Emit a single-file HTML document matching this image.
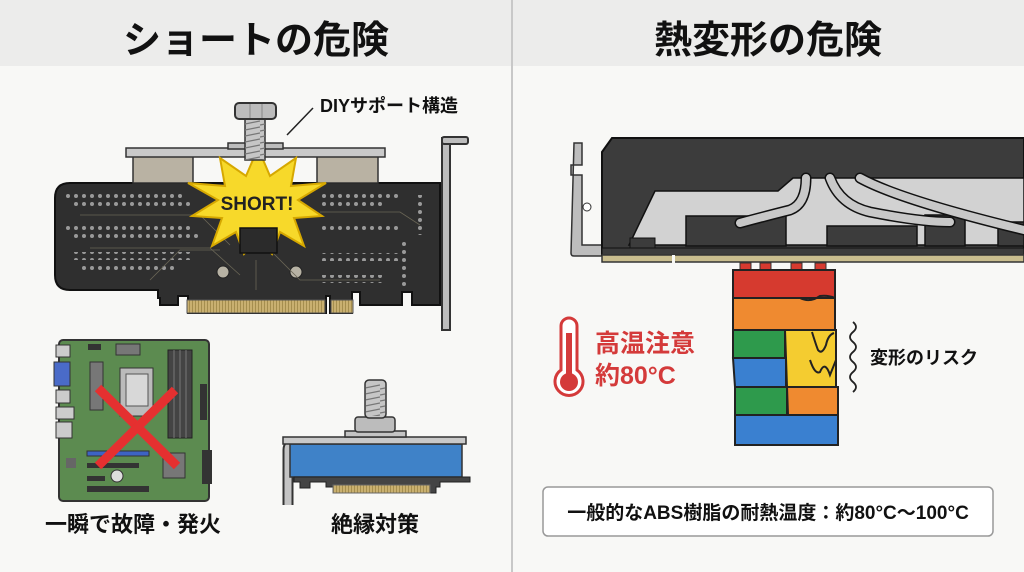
<!DOCTYPE html>
<html><head><meta charset="utf-8">
<style>
html,body{margin:0;padding:0;background:#f8f8f6;}
svg{display:block}
text{font-family:"Liberation Sans","Noto Sans CJK JP",sans-serif;font-weight:bold}
</style></head><body>
<svg width="1024" height="572" viewBox="0 0 1024 572" xmlns="http://www.w3.org/2000/svg">
<defs>
<pattern id="dots" x="0" y="0" width="8" height="8" patternUnits="userSpaceOnUse">
<circle cx="4" cy="4" r="2" fill="#9a9a9a"/></pattern>
<pattern id="gold" x="0" y="0" width="3" height="10" patternUnits="userSpaceOnUse">
<rect width="3" height="10" fill="#c9b070"/><rect width="1" height="10" fill="#a58e4e"/></pattern>
<pattern id="thread" x="0" y="0" width="20" height="6" patternUnits="userSpaceOnUse">
<line x1="0" y1="5" x2="20" y2="1" stroke="#777" stroke-width="1.2"/></pattern>
</defs>
<rect width="1024" height="572" fill="#f8f8f6"/>
<rect width="1024" height="66" fill="#ececeb"/>
<line x1="512" y1="0" x2="512" y2="572" stroke="#c8c8c8" stroke-width="2"/>
<text x="256" y="53" font-size="38" text-anchor="middle" fill="#111">ショートの危険</text>
<text x="768" y="53" font-size="38" text-anchor="middle" fill="#111">熱変形の危険</text>

<!-- LEFT TOP: PCB -->
<rect x="442" y="138" width="8" height="192" fill="#bdbdbd" stroke="#333" stroke-width="2"/>
<rect x="442" y="137" width="26" height="7" rx="2" fill="#bdbdbd" stroke="#333" stroke-width="2"/>
<path d="M70 183 H440 V305 H412 V292 H402 V305 H360 V292 H352 V313 H330 V296 H326 V313 H188 V296 H178 V305 H160 V298 H158 V290 H70 Q55 290 55 275 V198 Q55 183 70 183 Z" fill="#2f2f2f" stroke="#111" stroke-width="2"/>
<rect x="187" y="300" width="138" height="13" fill="url(#gold)" stroke="#555" stroke-width="1"/>
<rect x="331" y="300" width="22" height="13" fill="url(#gold)" stroke="#555" stroke-width="1"/>
<rect x="66" y="192" width="120" height="8" fill="url(#dots)"/>
<rect x="70" y="202" width="124" height="8" fill="url(#dots)"/>
<rect x="66" y="224" width="124" height="8" fill="url(#dots)"/>
<rect x="70" y="234" width="128" height="8" fill="url(#dots)"/>
<rect x="72" y="252" width="120" height="8" fill="url(#dots)"/>
<rect x="82" y="263" width="96" height="8" fill="url(#dots)"/>
<rect x="322" y="192" width="80" height="8" fill="url(#dots)"/>
<rect x="322" y="202" width="60" height="8" fill="url(#dots)"/>
<rect x="322" y="224" width="80" height="8" fill="url(#dots)"/>
<rect x="322" y="253" width="80" height="8" fill="url(#dots)"/>
<rect x="318" y="275" width="64" height="8" fill="url(#dots)"/>
<rect x="414" y="195" width="8" height="40" fill="url(#dots)"/>
<rect x="398" y="238" width="8" height="50" fill="url(#dots)"/>
<circle cx="223" cy="272" r="6" fill="#b7b2a4" stroke="#222"/>
<circle cx="296" cy="272" r="6" fill="#b7b2a4" stroke="#222"/>
<g stroke="#6a6656" stroke-width="0.8" fill="none">
<path d="M80 215 H200 L230 245"/><path d="M90 248 H210 L240 275"/><path d="M320 212 H400 L420 225"/><path d="M270 250 L300 280 H380"/><path d="M256 260 V290"/><path d="M150 280 L180 250 H220"/>
</g>
<rect x="133" y="156" width="60" height="27" fill="#b9b2a3" stroke="#333" stroke-width="1.5"/>
<rect x="317" y="156" width="61" height="27" fill="#b9b2a3" stroke="#333" stroke-width="1.5"/>
<rect x="126" y="148" width="259" height="9" fill="#c9c9c9" stroke="#333" stroke-width="1.5"/>
<rect x="228" y="143" width="55" height="6" fill="#bdbdbd" stroke="#333" stroke-width="1.5"/>
<polygon fill="#f7d92a" stroke="#d6a800" stroke-width="2" points="258,148 270,176 296,158 291,186 326,183 298,200 322,216 294,218 304,246 280,232 272,254 258,238 244,254 236,232 212,246 222,218 192,216 218,200 188,183 225,186 220,158 246,176"/>
<rect x="240" y="228" width="37" height="25" fill="#2b2b2b" stroke="#111" stroke-width="1.5"/>
<rect x="245" y="118" width="20" height="42" fill="#c6c6c6" stroke="#333" stroke-width="1.5"/>
<rect x="245" y="118" width="20" height="42" fill="url(#thread)"/>
<rect x="235" y="103" width="41" height="16" rx="4" fill="#bcbcbc" stroke="#333" stroke-width="2"/>
<line x1="250" y1="104" x2="250" y2="118" stroke="#888"/><line x1="262" y1="104" x2="262" y2="118" stroke="#888"/>
<text x="257" y="210" font-size="19" text-anchor="middle" fill="#222">SHORT!</text>
<line x1="287" y1="135" x2="313" y2="108" stroke="#222" stroke-width="1.5"/>
<text x="320" y="112" font-size="18" fill="#111">DIYサポート構造</text>

<!-- motherboard -->
<rect x="59" y="340" width="150" height="161" rx="4" fill="#5c8b50" stroke="#333" stroke-width="2"/>
<rect x="56" y="345" width="14" height="12" fill="#ccc" stroke="#333"/>
<rect x="54" y="362" width="16" height="24" fill="#4a6bc8" stroke="#333"/>
<rect x="56" y="390" width="14" height="13" fill="#ccc" stroke="#333"/>
<rect x="56" y="407" width="18" height="12" fill="#ccc" stroke="#333"/>
<rect x="56" y="422" width="16" height="16" fill="#ccc" stroke="#333"/>
<rect x="88" y="344" width="13" height="6" fill="#333"/>
<rect x="116" y="344" width="24" height="11" fill="#777" stroke="#333"/>
<rect x="90" y="362" width="13" height="48" fill="#777" stroke="#333"/>
<rect x="120" y="368" width="33" height="48" fill="#bbb" stroke="#333"/>
<rect x="126" y="374" width="22" height="32" fill="#d8d8d8" stroke="#555"/>
<rect x="168" y="350" width="24" height="88" fill="#444" stroke="#222"/>
<line x1="174" y1="350" x2="174" y2="438" stroke="#777"/><line x1="180" y1="350" x2="180" y2="438" stroke="#777"/><line x1="186" y1="350" x2="186" y2="438" stroke="#777"/>
<rect x="200" y="384" width="7" height="36" fill="#333"/>
<rect x="87" y="451" width="62" height="5" fill="#3d63c4" stroke="#333"/>
<rect x="87" y="463" width="52" height="5" fill="#333"/>
<rect x="87" y="476" width="18" height="5" fill="#333"/>
<rect x="87" y="486" width="62" height="6" fill="#333"/>
<rect x="163" y="453" width="22" height="25" fill="#777" stroke="#333"/>
<rect x="66" y="458" width="10" height="10" fill="#666"/>
<circle cx="117" cy="476" r="6" fill="#ddd" stroke="#333"/>
<rect x="202" y="450" width="10" height="34" fill="#333"/>
<line x1="98" y1="388" x2="177" y2="466" stroke="#e53030" stroke-width="9"/>
<line x1="175" y1="390" x2="98" y2="466" stroke="#e53030" stroke-width="9"/>
<text x="133" y="532" font-size="22" text-anchor="middle" fill="#111">一瞬で故障・発火</text>

<!-- insulation -->
<path d="M288 505 V450 Q288 444 294 444" fill="none" stroke="#333" stroke-width="11"/>
<path d="M288 505 V450 Q288 444 294 444" fill="none" stroke="#c4c4c4" stroke-width="7"/>
<rect x="290" y="444" width="172" height="33" fill="#3f82c8" stroke="#333" stroke-width="1.5"/>
<path d="M294 477 H470 V482 H440 V487 H436 V493 H430 H333 V487 H326 V482 H310 V488 H300 V482 H294 Z" fill="#444" stroke="#222"/>
<rect x="333" y="485" width="97" height="8" fill="url(#gold)" stroke="#666" stroke-width="1"/>
<rect x="283" y="437" width="183" height="7" fill="#c9c9c9" stroke="#333" stroke-width="1.5"/>
<rect x="345" y="431" width="61" height="6" fill="#c4c4c4" stroke="#333" stroke-width="1.5"/>
<rect x="355" y="417" width="40" height="15" rx="3" fill="#bcbcbc" stroke="#333" stroke-width="1.5"/>
<rect x="365" y="380" width="21" height="38" rx="4" fill="#c6c6c6" stroke="#333" stroke-width="1.5"/>
<rect x="366" y="384" width="19" height="32" fill="url(#thread)"/>
<text x="375" y="532" font-size="22" text-anchor="middle" fill="#111">絶縁対策</text>

<!-- RIGHT: GPU -->
<path d="M574 143 H582 V165 H571 V175 H582 V245 H603 V256 H574 Q571 256 571 253 Z" fill="#bdbdbd" stroke="#333" stroke-width="1.5"/>
<circle cx="587" cy="207" r="4" fill="#fff" stroke="#333"/>
<path d="M612 138 H1024 V255 H602 V152 Z" fill="#3c3c3c" stroke="#111" stroke-width="2"/>
<path d="M655 191 H778 L793 178 H1024 V245 H629 Z" fill="#d2d2d2" stroke="#111" stroke-width="1.5"/>
<rect x="686" y="216" width="100" height="30" fill="#3c3c3c" stroke="#111" stroke-width="1.5"/>
<rect x="827" y="226" width="90" height="20" fill="#3c3c3c" stroke="#111" stroke-width="1.5"/>
<rect x="925" y="215" width="40" height="31" fill="#3c3c3c" stroke="#111" stroke-width="1.5"/>
<rect x="998" y="222" width="26" height="24" fill="#3c3c3c" stroke="#111" stroke-width="1.5"/>
<g fill="none" stroke="#111" stroke-width="11" stroke-linecap="round"><path d="M740 223 Q770 215 790 210 Q806 204 806 178"/><path d="M830 178 Q840 205 870 212 Q920 222 950 222"/><path d="M860 178 Q900 200 1024 230"/></g>
<g fill="none" stroke="#c8c8c8" stroke-width="8" stroke-linecap="round"><path d="M740 223 Q770 215 790 210 Q806 204 806 178"/><path d="M830 178 Q840 205 870 212 Q920 222 950 222"/><path d="M860 178 Q900 200 1024 230"/></g>
<rect x="630" y="238" width="25" height="10" fill="#3c3c3c" stroke="#111"/>
<rect x="602" y="248" width="422" height="7" fill="#3c3c3c" stroke="#111"/>
<rect x="602" y="255" width="422" height="7" fill="#c9bd8e" stroke="#333" stroke-width="1.5"/>
<rect x="672" y="255" width="3" height="8" fill="#f8f8f6"/>
<g fill="#d63a2f" stroke="#333" stroke-width="1"><rect x="740" y="263" width="11" height="8"/><rect x="760" y="263" width="11" height="8"/><rect x="791" y="263" width="11" height="8"/><rect x="815" y="263" width="11" height="8"/></g>
<path d="M733 270 H835 V298 H733 Z" fill="#d63a2f" stroke="#222" stroke-width="2"/>
<path d="M733 298 H835 V330 H733 Z" fill="#ef8a30" stroke="#222" stroke-width="2"/>
<path d="M733 298 H800 Q810 303 820 296 Q828 295 835 298" fill="none" stroke="#222" stroke-width="2"/>
<path d="M733 330 H785 V358 H733 Z" fill="#2e9a4c" stroke="#222" stroke-width="2"/>
<path d="M785 330 H836 V387 H787 Z" fill="#f4cc30" stroke="#222" stroke-width="2"/>
<path d="M733 358 H786 V387 H735 Z" fill="#3a80d0" stroke="#222" stroke-width="2"/>
<path d="M735 387 H787 V415 H735 Z" fill="#2e9a4c" stroke="#222" stroke-width="2"/>
<path d="M787 387 H838 V415 H788 Z" fill="#ef8a30" stroke="#222" stroke-width="2"/>
<path d="M735 415 H838 V445 H735 Z" fill="#3a80d0" stroke="#222" stroke-width="2"/>
<path d="M812 332 Q816 345 818 350 Q822 355 826 345 Q828 335 834 333" fill="#f4cc30" stroke="#222" stroke-width="2"/>
<path d="M810 360 Q815 375 820 372 Q825 360 830 375 Q834 365 836 360" fill="none" stroke="#222" stroke-width="2"/>
<path d="M853 322 q6 5 0 10 q-6 5 0 10 q6 5 0 10 q-6 5 0 10 q6 5 0 10 q-6 5 0 10 q6 5 0 10" fill="none" stroke="#222" stroke-width="1.8"/>
<text x="870" y="364" font-size="18" fill="#111">変形のリスク</text>
<path d="M561 326 A8 8 0 0 1 577 326 V370 A14 14 0 1 1 561 370 Z" fill="#fff" stroke="#d43a3a" stroke-width="3"/>
<rect x="566" y="333" width="6" height="42" fill="#d43a3a"/>
<circle cx="569" cy="382" r="9" fill="#d43a3a"/>
<text x="595" y="352" font-size="25" fill="#d43a3a">高温注意</text>
<text x="595" y="384" font-size="25" fill="#d43a3a">約80°C</text>
<rect x="543" y="487" width="450" height="49" rx="5" fill="#fff" stroke="#999" stroke-width="1.5"/>
<text x="768" y="519" font-size="19" text-anchor="middle" fill="#111">一般的なABS樹脂の耐熱温度：約80°C〜100°C</text>
</svg>
</body></html>
